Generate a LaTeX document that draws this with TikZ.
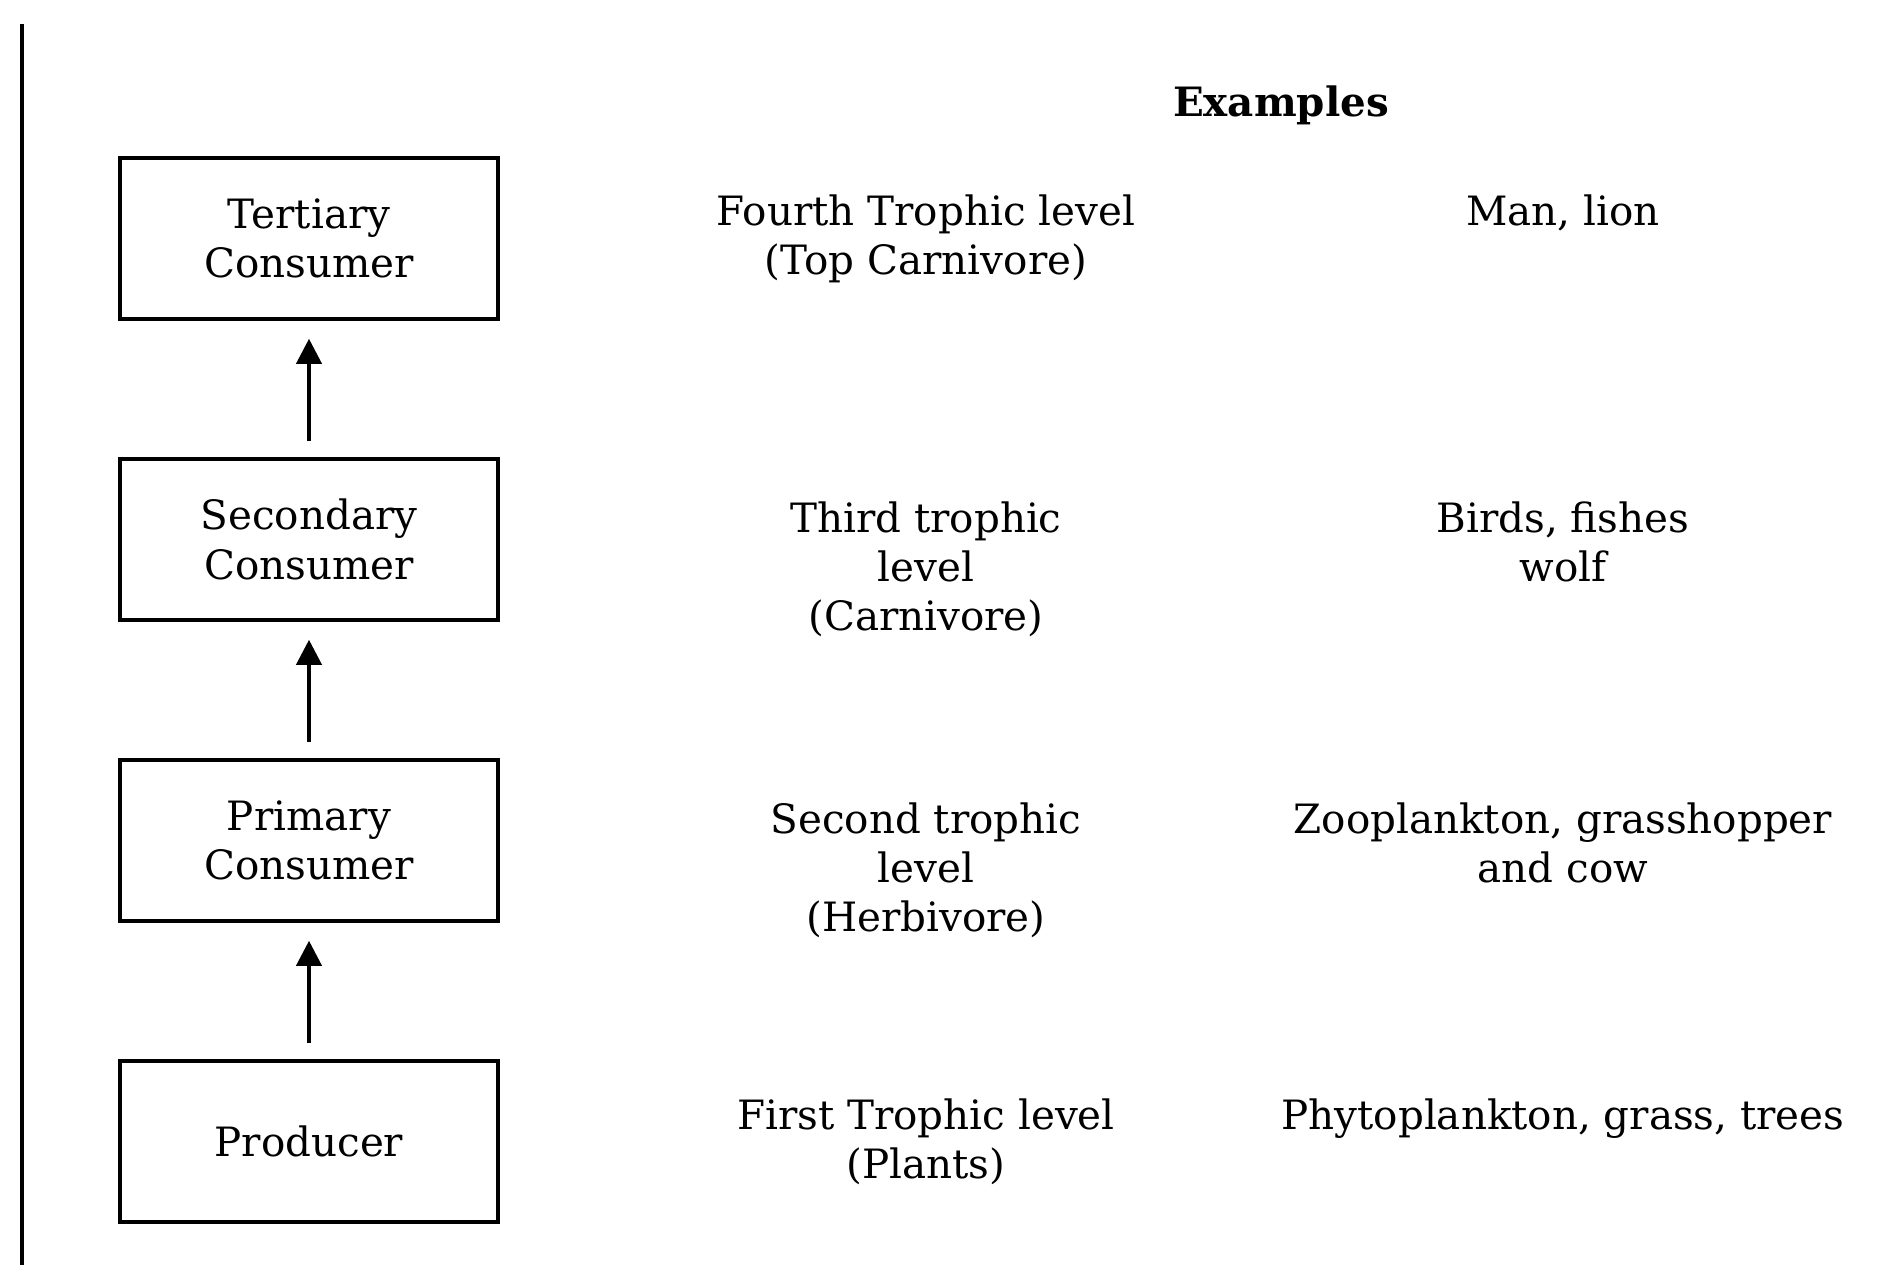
\documentclass[tikz,border=0pt]{standalone}
\usepackage{fontspec}
\setmainfont{DejaVu Serif}
\usetikzlibrary{arrows.meta,positioning}

\begin{document}
\begin{tikzpicture}[
    every node/.style={font=\fontsize{11.5}{14}\selectfont},
    level/.style={draw, line width=1pt, minimum width=3.78cm, minimum height=1.61cm, align=center, inner sep=0pt},
    lvltext/.style={align=center, inner sep=0pt},
    feed/.style={-{Triangle[width=0.25cm,length=0.25cm]}, line width=1.1pt}
  ]
   \def\bx{3.09}
   \def\gap{3.01}
   \useasboundingbox (0,-12.65) rectangle (18.9,0);
   % frame line at the left
   \draw[line width=1pt] (0.22,-0.24) -- (0.22,-12.65);
   \coordinate (mid) at (9.26,0);
   \coordinate (ex) at (15.63,0);
   \node[font=\fontsize{11.5}{14}\selectfont\bfseries] (examples) at (12.81,-1.05) {Examples};
   % trophic levels
   \node[level] (tert) at (\bx,-2.385) {Tertiary\\Consumer};
   \node[level] (sec) at (\bx,-2.385-\gap) {Secondary\\Consumer};
   \node[level] (prim) at (\bx,-2.385-2*\gap) {Primary\\Consumer};
   \node[level] (prod) at (\bx,-2.385-3*\gap) {Producer};
   \draw[feed] ([yshift=0.16cm]sec.north) -- ([yshift=-0.18cm]tert.south);
   \draw[feed] ([yshift=0.16cm]prim.north) -- ([yshift=-0.18cm]sec.south);
   \draw[feed] ([yshift=0.16cm]prod.north) -- ([yshift=-0.18cm]prim.south);
   % middle column
   \node[lvltext] (l4) at (mid |- tert) {Fourth Trophic level\\(Top Carnivore)};
   \node[lvltext, yshift=-0.3cm] (l3) at (mid |- sec) {Third trophic\\level\\(Carnivore)};
   \node[lvltext, yshift=-0.3cm] (l2) at (mid |- prim) {Second trophic\\level\\(Herbivore)};
   \node[lvltext] (l1) at (mid |- prod) {First Trophic level\\(Plants)};
   % examples column
   \node[lvltext] (e4) at (ex |- l4.north) [anchor=north] {Man, lion};
   \node[lvltext] (e3) at (ex |- l3.north) [anchor=north] {Birds, fishes\\wolf};
   \node[lvltext] (e2) at (ex |- l2.north) [anchor=north] {Zooplankton, grasshopper\\and cow};
   \node[lvltext] (e1) at (ex |- l1.north) [anchor=north] {Phytoplankton, grass, trees};
\end{tikzpicture}
\end{document}
